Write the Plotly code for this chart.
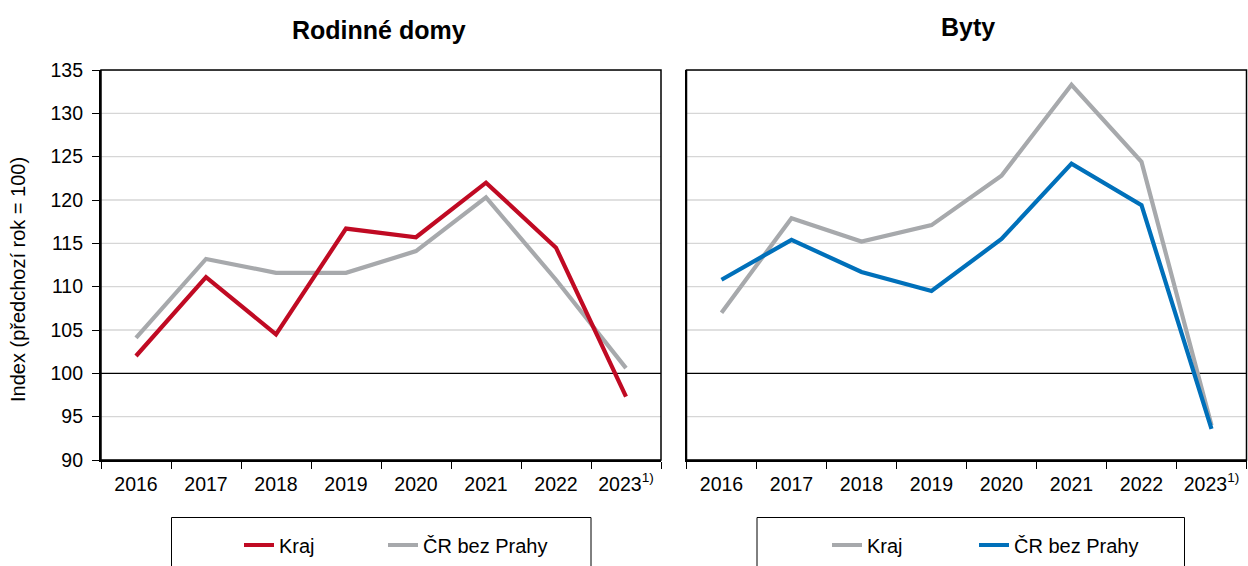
import plotly.graph_objects as go

# Years on the category axis; the last year carries a footnote mark
years = ["2016", "2017", "2018", "2019", "2020", "2021", "2022", "2023"]
year_labels = ["2016", "2017", "2018", "2019", "2020", "2021", "2022", "2023<sup>1)</sup>"]

# Rodinné domy (index, předchozí rok = 100)
domy_kraj = [102.0, 111.1, 104.5, 116.7, 115.7, 122.0, 114.5, 97.3]
domy_cr = [104.1, 113.2, 111.6, 111.6, 114.1, 120.3, 110.8, 100.6]

# Byty (index, předchozí rok = 100)
byty_kraj = [107.0, 117.9, 115.2, 117.1, 122.8, 133.3, 124.4, 94.0]
byty_cr = [110.8, 115.4, 111.7, 109.5, 115.5, 124.2, 119.4, 93.6]

y_ticks = [90, 95, 100, 105, 110, 115, 120, 125, 130, 135]
BASE = 100  # previous year = 100

RED = "#C00A23"
GRAY = "#A7A9AC"
BLUE = "#0070BA"
GRID = "#D6D6D6"
FONT = "Liberation Sans, Arial, sans-serif"

W, H = 1248, 566


def px_x(v):
    return v / W


def px_y(v):
    return 1 - v / H


fig = go.Figure()

# Left panel: grey drawn first so the red line sits on top
fig.add_trace(go.Scatter(x=years, y=domy_cr, name="ČR bez Prahy", mode="lines",
                         line=dict(color=GRAY, width=4.2), xaxis="x", yaxis="y",
                         legend="legend2"))
fig.add_trace(go.Scatter(x=years, y=domy_kraj, name="Kraj", mode="lines",
                         line=dict(color=RED, width=4.2), xaxis="x", yaxis="y",
                         legend="legend"))

# Right panel: grey regional line under the blue national line
fig.add_trace(go.Scatter(x=years, y=byty_kraj, name="Kraj", mode="lines",
                         line=dict(color=GRAY, width=4.2), xaxis="x2", yaxis="y2",
                         legend="legend3"))
fig.add_trace(go.Scatter(x=years, y=byty_cr, name="ČR bez Prahy", mode="lines",
                         line=dict(color=BLUE, width=4.2), xaxis="x2", yaxis="y2",
                         legend="legend4"))

x_common = dict(
    type="category", categoryorder="array", categoryarray=years,
    range=[-0.5, 7.5], tickmode="array", tickvals=years, ticktext=year_labels,
    tickson="boundaries", ticks="outside", ticklen=7, tickwidth=1.3, tickcolor="black",
    ticklabelstandoff=5,
    showline=True, linecolor="black", linewidth=2.2, showgrid=False, automargin=False,
    tickfont=dict(family=FONT, size=19.5, color="black"), fixedrange=True,
)
y_common = dict(
    range=[90, 135], tickvals=y_ticks, showgrid=False,
    showline=True, linecolor="black", linewidth=2.2, zeroline=False, automargin=False,
    tickfont=dict(family=FONT, size=19.5, color="black"), fixedrange=True,
)

dom_y = [px_y(460), px_y(70)]

legend_common = dict(
    orientation="h", yanchor="middle", xanchor="left", y=px_y(545),
    font=dict(family=FONT, size=20, color="black"), bgcolor="rgba(0,0,0,0)",
    itemwidth=30,
)

fig.update_layout(
    template="none",
    width=W, height=H, margin=dict(l=0, r=0, t=0, b=0, autoexpand=False),
    paper_bgcolor="white", plot_bgcolor="white",
    font=dict(family=FONT, color="black"),
    xaxis=dict(x_common, domain=[px_x(101), px_x(661)], anchor="y"),
    yaxis=dict(y_common, domain=dom_y, anchor="x", ticks="outside", ticklen=7,
               tickwidth=1.3, tickcolor="black", ticklabelstandoff=5),
    xaxis2=dict(x_common, domain=[px_x(686.5), px_x(1246.5)], anchor="y2"),
    yaxis2=dict(y_common, domain=dom_y, anchor="x2", showticklabels=False, ticks=""),
    # one legend per entry so each key sits at its own place in the boxes
    legend=dict(legend_common, x=px_x(239)),
    legend2=dict(legend_common, x=px_x(383)),
    legend3=dict(legend_common, x=px_x(827)),
    legend4=dict(legend_common, x=px_x(974)),
    showlegend=True,
)

shapes = []
for xr, yr in (("x", "y"), ("x2", "y2")):
    # horizontal grid; the base level 100 is drawn in black
    for v in y_ticks:
        is_base = v == BASE
        shapes.append(dict(type="line", xref=f"{xr} domain", yref=yr, x0=0, x1=1,
                           y0=v, y1=v, layer="below",
                           line=dict(color="black" if is_base else GRID,
                                     width=1.4 if is_base else 1.3)))
    # plot frame
    shapes.append(dict(type="rect", xref=f"{xr} domain", yref=f"{yr} domain",
                       x0=0, x1=1, y0=0, y1=1, line=dict(color="black", width=1.5),
                       layer="above"))

# legend boxes
shapes.append(dict(type="rect", xref="paper", yref="paper",
                   x0=px_x(171.5), x1=px_x(591), y0=px_y(580), y1=px_y(517.5),
                   line=dict(color="black", width=1)))
shapes.append(dict(type="rect", xref="paper", yref="paper",
                   x0=px_x(757), x1=px_x(1184.5), y0=px_y(580), y1=px_y(517.5),
                   line=dict(color="black", width=1)))
fig.update_layout(shapes=shapes)

fig.add_annotation(text="<b>Rodinné domy</b>", x=px_x(379), y=px_y(30), xref="paper",
                   yref="paper", showarrow=False, xanchor="center", yanchor="middle",
                   font=dict(family=FONT, size=25, color="black"))
fig.add_annotation(text="<b>Byty</b>", x=px_x(968), y=px_y(27), xref="paper",
                   yref="paper", showarrow=False, xanchor="center", yanchor="middle",
                   font=dict(family=FONT, size=25, color="black"))
fig.add_annotation(text="Index (předchozí rok = 100)", x=px_x(18), y=px_y(280),
                   xref="paper", yref="paper", showarrow=False, textangle=-90,
                   xanchor="center", yanchor="middle",
                   font=dict(family=FONT, size=20, color="black"))

fig.write_html("out.html")
